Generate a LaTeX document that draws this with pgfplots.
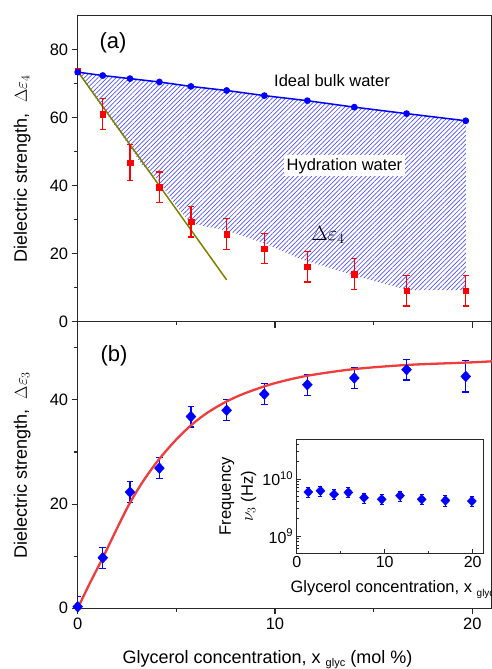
\documentclass[border=0pt]{standalone}
\usepackage{fontspec}
\setmainfont{Liberation Sans}
\usepackage{pgfplots}
\pgfplotsset{compat=1.18}
\usetikzlibrary{patterns.meta}
\definecolor{hatchblue}{RGB}{80,80,255}
\definecolor{fitred}{RGB}{240,60,60}
\definecolor{olivel}{RGB}{128,128,0}
\definecolor{axgray}{RGB}{40,40,40}
\pgfplotsset{
  panel/.style={
    scale only axis, anchor=south west, width=414.3pt,
    xmin=0, xmax=21,
    axis line style={axgray, line width=1.2pt},
    tick style={axgray, line width=1.1pt},
    tick align=outside, major tick length=6pt, minor tick length=3.5pt,
    xtick pos=left, ytick pos=left,
    tick label style={font=\fontsize{16.5}{18}\selectfont},
    label style={font=\fontsize{18}{20}\selectfont},
  }
}
\begin{document}
\begin{tikzpicture}[x=1pt,y=1pt]
\useasboundingbox (0,0) rectangle (491,669);

% ---------- panel (a) ----------
\begin{axis}[panel, at={(77.7pt,347.3pt)}, height=306pt, ymin=0, ymax=90,
  xtick={0,10,20}, xticklabels={,,}, minor xtick={5,15},
  ytick={0,20,40,60,80}, yticklabels={0,20,40,60,80}, minor ytick={10,30,50,70},
  ylabel={Dielectric strength,\ \ $\Delta\varepsilon_4$},
  ylabel style={at={(axis description cs:-0.134,0.5)}, anchor=center},
]
\addplot[draw=none, pattern={Lines[angle=45,distance=3.2pt,line width=0.7pt]}, pattern color=hatchblue]
  coordinates {(0,73.4) (1.27,72.4) (2.65,71.5) (4.14,70.5) (5.74,69.2) (7.55,68.0) (9.46,66.5) (11.64,65.0) (14.02,63.1) (16.67,61.2) (19.67,59.1)
  (19.67,9.3) (16.8,9.3) (15.5,11.2) (14,13.6) (12.5,16.3) (11.3,18.4) (9.5,23.0) (7.55,26.8) (6.5,28.0) (5.7,29.2) (5.0,34.0) (4.1,41.5) (3.2,46.5) (2.65,51.5) (1.3,62.5) (0,73.6)};
\addplot[olivel, line width=1.5pt] coordinates {(0,73.6) (7.55,12.3)};
\addplot[red, only marks, mark=square*, mark size=2.8pt,
  error bars/.cd, y dir=both, y explicit, error bar style={line width=1.2pt},
  error mark options={red, line width=1.2pt, mark size=3.2pt, rotate=90}]
  coordinates {(0,73.6) +- (0,0) (1.27,61.1) +- (0,4.5) (2.65,46.8) +- (0,5.2) (4.14,39.5) +- (0,4.5) (5.74,29.4) +- (0,4.5)
  (7.55,25.8) +- (0,4.5) (9.46,21.5) +- (0,4.5) (11.64,16.2) +- (0,4.5) (14.02,14.0) +- (0,4.5) (16.67,9.1) +- (0,4.5) (19.67,9.1) +- (0,4.5)};
\addplot[blue, line width=1.5pt, mark=*, mark size=2.6pt]
  coordinates {(0,73.4) (1.27,72.4) (2.65,71.5) (4.14,70.5) (5.74,69.2) (7.55,68.0) (9.46,66.5) (11.64,65.0) (14.02,63.1) (16.67,61.2) (19.67,59.1)};
\node[font=\fontsize{22}{24}\selectfont] at (axis cs:1.79,82.1) {(a)};
\node[font=\fontsize{16.5}{18}\selectfont] at (axis cs:12.89,70.9) {Ideal bulk water};
\node[font=\fontsize{16.5}{18}\selectfont, fill=white, inner sep=3pt] at (axis cs:13.52,45.85) {Hydration water};
\node[font=\fontsize{20}{22}\selectfont] at (axis cs:12.7,25.6) {$\Delta\varepsilon_4$};
\end{axis}

% ---------- panel (b) ----------
\begin{axis}[panel, at={(77.7pt,60.7pt)}, height=286.6pt, ymin=0, ymax=55,
  xtick={0,10,20}, xticklabels={0,10,20}, minor xtick={5,15},
  ytick={0,20,40}, yticklabels={0,20,40}, minor ytick={10,30,50},
  ylabel={Dielectric strength,\ \ $\Delta\varepsilon_3$},
  ylabel style={at={(axis description cs:-0.134,0.5)}, anchor=center},
  xlabel={Glycerol concentration, x \raisebox{-3.5pt}{\fontsize{11}{11}\selectfont glyc} (mol \%)},
  xlabel style={at={(axis description cs:0.458,-0.1926)}, anchor=base},
]
\addplot[blue, only marks, mark=diamond*, mark size=5.4pt, mark options={xscale=1.22},
  error bars/.cd, y dir=both, y explicit, error bar style={line width=1.2pt},
  error mark options={blue, line width=1.2pt, mark size=3.4pt, rotate=90, xscale=1}]
  coordinates {(0,0.3) +- (0,2) (1.27,9.7) +- (0,2) (2.65,22.3) +- (0,2) (4.14,26.9) +- (0,2) (5.74,36.8) +- (0,2)
  (7.55,38.0) +- (0,2) (9.46,41.1) +- (0,2) (11.64,42.9) +- (0,2) (14.02,44.2) +- (0,2) (16.67,45.8) +- (0,2) (19.67,44.5) +- (0,3)};
\addplot[fitred, line width=2.3pt, smooth]
  coordinates {(0,0) (0.6,4.7) (1.3,9.9) (2,15.4) (2.6,19.9) (3.3,24.3) (4.1,28.5) (5,32.4) (5.8,35.3) (6.6,37.6) (7.55,39.7) (8.5,41.3) (9.9,43.1) (11.6,44.6) (14,45.9) (16.7,46.7) (20,47.2) (21,47.4)};
\node[font=\fontsize{22}{24}\selectfont] at (axis cs:1.84,48.5) {(b)};
\end{axis}

% ---------- inset ----------
\begin{axis}[scale only axis, anchor=south west, at={(296.7pt,115.7pt)}, width=186.6pt, height=114.3pt,
  xmin=0, xmax=21.2, ymode=log, ymin=5e8, ymax=5e10,
  axis line style={axgray, line width=0.9pt}, tick style={axgray, line width=0.8pt},
  tick align=inside, major tick length=4pt, minor tick length=2.5pt,
  xtick pos=left, ytick pos=left,
  xtick={0,10,20}, xticklabels={0,10,20}, minor xtick={5,15},
  ytick={1e9,1e10}, yticklabels={10\textsuperscript{9},10\textsuperscript{10}},
  minor ytick={6e8,7e8,8e8,9e8,2e9,3e9,4e9,5e9,6e9,7e9,8e9,9e9,2e10,3e10,4e10},
  tick label style={font=\fontsize{16}{18}\selectfont},
  label style={font=\fontsize{16.5}{18}\selectfont},
  ylabel={Frequency\\[4pt]$\nu_3$ (Hz)},
  ylabel style={align=center, at={(axis description cs:-0.315,0.5)}, anchor=center},
  xlabel={Glycerol concentration, x \raisebox{-3.5pt}{\fontsize{10}{10}\selectfont glyc}},
  xlabel style={at={(axis description cs:-0.052,-0.347)}, anchor=base west},
]
\addplot[blue, only marks, mark=diamond*, mark size=4.8pt, mark options={xscale=1.25},
  error bars/.cd, y dir=both, y explicit relative, error bar style={line width=1pt},
  error mark options={blue, line width=1pt, mark size=2pt, rotate=90}]
  coordinates {(1.32,5.9e9) +- (0,0.2) (2.7,6.2e9) +- (0,0.2) (4.24,5.4e9) +- (0,0.2) (5.87,5.8e9) +- (0,0.2) (7.65,4.7e9) +- (0,0.2)
  (9.66,4.4e9) +- (0,0.2) (11.74,5.1e9) +- (0,0.2) (14.2,4.4e9) +- (0,0.2) (16.9,4.2e9) +- (0,0.2) (19.9,4.1e9) +- (0,0.2)};
\end{axis}
\end{tikzpicture}
\end{document}
